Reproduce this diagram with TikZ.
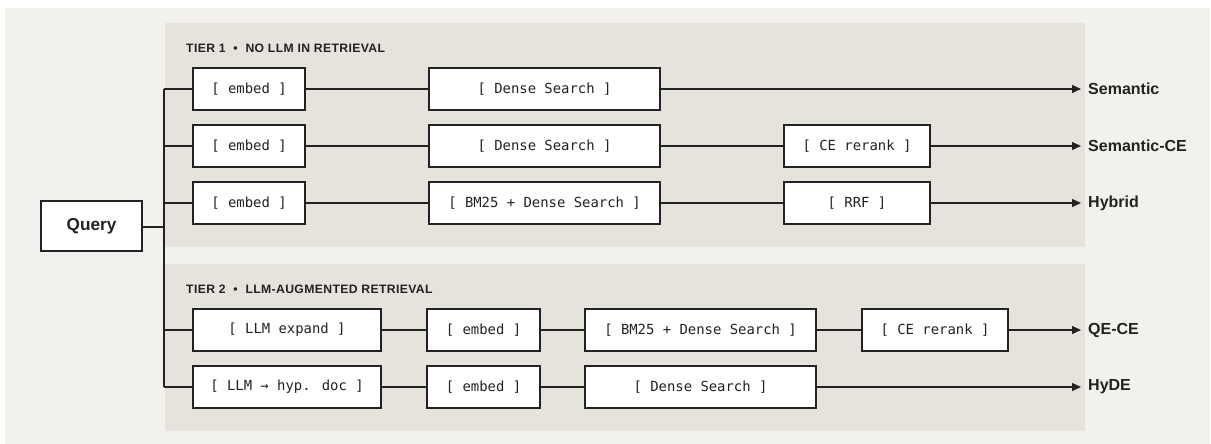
\documentclass[tikz,border=0pt]{standalone}
\usepackage{fontspec}
\setmainfont{Liberation Sans}
\newfontfamily\monof{DejaVu Sans Mono}
\newfontfamily\boldf[LetterSpace=3]{Liberation Sans Bold}
\usetikzlibrary{arrows.meta}
\definecolor{outerbg}{HTML}{F2F1ED}
\definecolor{panelbg}{HTML}{E6E3DD}
\definecolor{ink}{HTML}{222222}
\tikzset{
  stage/.style={draw=ink, line width=1.4pt, fill=white, minimum height=42pt, inner sep=0pt,
    font=\monof\fontsize{13.9}{16}\selectfont, text=ink},
  conn/.style={draw=ink, line width=1.4pt},
  outarrow/.style={conn, -{Triangle[length=9pt,width=8pt]}},
  outlabel/.style={anchor=west, inner sep=0pt, font=\bfseries\fontsize{16}{18}\selectfont, text=ink},
  tierlabel/.style={anchor=west, inner sep=0pt, font=\boldf\fontsize{12.2}{14}\selectfont, text=ink},
  panel/.style={fill=panelbg, draw=none},
}
\begin{document}
\begin{tikzpicture}[x=1pt,y=-1pt]
\useasboundingbox (0,0) rectangle (1211,444);
\fill[white] (0,0) rectangle (1211,444);
\fill[outerbg] (5,8) rectangle (1210,444);
\fill[panelbg] (165,23) rectangle (1085,247);
\fill[panelbg] (165,264) rectangle (1085,431);
\node[tierlabel] (t1) at (186,48) {TIER 1 \,\,•\,\, NO LLM IN RETRIEVAL};
\node[tierlabel] (t2) at (186,289) {TIER 2 \,\,•\,\, LLM-AUGMENTED RETRIEVAL};

% Query
\node[stage, minimum width=101pt, minimum height=50pt, font=\bfseries\fontsize{17.2}{20}\selectfont] (q) at (91.5,226) {Query};
\coordinate (bus) at (164,227);
\coordinate (bt) at (164,89);
\coordinate (bb) at (164,387);

% Row 1
\node[stage, minimum width=112pt] (e1) at (249,89) {[ embed ]};
\node[stage, minimum width=231pt] (d1) at (544.5,89) {[ Dense Search ]};
\coordinate (o1) at (1081,89);
\node[outlabel] (l1) at (1088,89) {Semantic};
% Row 2
\node[stage, minimum width=112pt] (e2) at (249,146) {[ embed ]};
\node[stage, minimum width=231pt] (d2) at (544.5,146) {[ Dense Search ]};
\node[stage, minimum width=146pt] (c2) at (857,146) {[ CE rerank ]};
\coordinate (o2) at (1081,146);
\node[outlabel] (l2) at (1088,146) {Semantic-CE};
% Row 3
\node[stage, minimum width=112pt] (e3) at (249,203) {[ embed ]};
\node[stage, minimum width=231pt] (d3) at (544.5,203) {[ BM25 + Dense Search ]};
\node[stage, minimum width=146pt] (c3) at (857,203) {[ RRF ]};
\coordinate (o3) at (1081,203);
\node[outlabel] (l3) at (1088,203) {Hybrid};
% Row 4
\node[stage, minimum width=188pt] (x4) at (287,330) {[ LLM expand ]};
\node[stage, minimum width=113pt] (e4) at (483.5,330) {[ embed ]};
\node[stage, minimum width=231pt] (d4) at (700.5,330) {[ BM25 + Dense Search ]};
\node[stage, minimum width=146pt] (c4) at (935,330) {[ CE rerank ]};
\coordinate (o4) at (1081,330);
\node[outlabel] (l4) at (1088,330) {QE-CE};
% Row 5
\node[stage, minimum width=188pt] (x5) at (287,387) {[ LLM → hyp. doc ]};
\node[stage, minimum width=113pt] (e5) at (483.5,387) {[ embed ]};
\node[stage, minimum width=231pt] (d5) at (700.5,387) {[ Dense Search ]};
\coordinate (o5) at (1081,387);
\node[outlabel] (l5) at (1088,387) {HyDE};

% connectors
\draw[conn] (q.east |- bus) -- (bus);
\draw[conn] (bt) -- (bb);
\draw[conn] (bt) -- (e1.west);
\draw[conn] (bt |- e2.west) -- (e2.west);
\draw[conn] (bt |- e3.west) -- (e3.west);
\draw[conn] (bt |- x4.west) -- (x4.west);
\draw[conn] (bb) -- (x5.west);

\draw[conn] (e1) -- (d1);
\draw[outarrow] (d1) -- (o1);
\draw[conn] (e2) -- (d2);
\draw[conn] (d2) -- (c2);
\draw[outarrow] (c2) -- (o2);
\draw[conn] (e3) -- (d3);
\draw[conn] (d3) -- (c3);
\draw[outarrow] (c3) -- (o3);
\draw[conn] (x4) -- (e4);
\draw[conn] (e4) -- (d4);
\draw[conn] (d4) -- (c4);
\draw[outarrow] (c4) -- (o4);
\draw[conn] (x5) -- (e5);
\draw[conn] (e5) -- (d5);
\draw[outarrow] (d5) -- (o5);
\end{tikzpicture}
\end{document}
